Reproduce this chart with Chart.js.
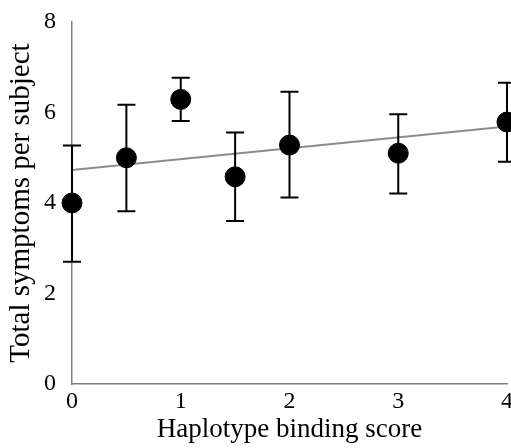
<!DOCTYPE html>
<html>
<head>
<meta charset="utf-8">
<script src="https://cdn.jsdelivr.net/npm/chart.js@4"></script>
<style>
  html, body { margin: 0; padding: 0; background: #fff; overflow: hidden; }
  #wrap { width: 511px; height: 448px; overflow: hidden; }
</style>
</head>
<body>
<div id="wrap"><canvas id="chart" width="518" height="448"></canvas></div>
<script>
// haplotype binding score vs mean symptoms, with error bar limits
const scores = [0, 0.5, 1, 1.5, 2, 3, 4];
const meanSymptoms = [4.0, 5.0, 6.29, 4.58, 5.28, 5.1, 5.79];
const upperLimit = [5.27, 6.17, 6.77, 5.56, 6.46, 5.96, 6.66];
const lowerLimit = [2.70, 3.82, 5.81, 3.60, 4.12, 4.21, 4.91];

// fitted trend line end points
const trendX = [0, 4];
const trendY = [4.73, 5.69];

const xTicks = [0, 1, 2, 3, 4];
const yTicks = [0, 2, 4, 6, 8];

const points = scores.map((s, i) => ({ x: s, y: meanSymptoms[i] }));
const trend = trendX.map((s, i) => ({ x: s, y: trendY[i] }));

Chart.defaults.font.family = "'Liberation Serif', 'Times New Roman', serif";
Chart.defaults.color = '#000';

const errorBars = {
    id: 'errorBars',
    afterDatasetsDraw(chart) {
        const ctx = chart.ctx;
        const xs = chart.scales.x;
        const ys = chart.scales.y;
        ctx.save();
        ctx.strokeStyle = '#000';
        ctx.lineWidth = 2;
        for (let i = 0; i < scores.length; i++) {
            const px = xs.getPixelForValue(scores[i]);
            const top = ys.getPixelForValue(upperLimit[i]);
            const bot = ys.getPixelForValue(lowerLimit[i]);
            ctx.beginPath();
            ctx.moveTo(px, top);
            ctx.lineTo(px, bot);
            ctx.moveTo(px - 9, top);
            ctx.lineTo(px + 9, top);
            ctx.moveTo(px - 9, bot);
            ctx.lineTo(px + 9, bot);
            ctx.stroke();
        }
        ctx.restore();
    }
};

const ctx = document.getElementById('chart').getContext('2d');

const myChart = new Chart(ctx, { // eslint-disable-line
    type: 'scatter',
    data: {
        datasets: [
            {
                type: 'line',
                data: trend,
                borderColor: '#8c8c8c',
                borderWidth: 2,
                pointRadius: 0,
                fill: false,
                order: 2
            },
            {
                data: points,
                backgroundColor: '#000',
                borderColor: '#000',
                pointRadius: 10,
                pointHoverRadius: 10,
                clip: false,
                order: 1
            }
        ]
    },
    options: {
        responsive: false,
        animation: false,
        layout: {
            padding: { top: 22, right: 0, left: 0, bottom: 0 }
        },
        plugins: {
            legend: { display: false },
            tooltip: { enabled: false }
        },
        scales: {
            x: {
                type: 'linear',
                min: 0,
                max: 4,
                afterBuildTicks: (axis) => {
                    axis.ticks = xTicks.map(v => ({ value: v }));
                },
                afterFit: (axis) => {
                    axis.height = 64;
                },
                grid: { display: false, drawTicks: false },
                border: { display: true, color: '#808080', width: 1.5 },
                ticks: { padding: 3, font: { size: 24 } },
                title: {
                    display: true,
                    text: 'Haplotype binding score',
                    font: { size: 27 },
                    padding: { top: 0, bottom: 2 }
                }
            },
            y: {
                min: 0,
                max: 8,
                afterBuildTicks: (axis) => {
                    axis.ticks = yTicks.map(v => ({ value: v }));
                },
                afterFit: (axis) => {
                    axis.width = 72;
                    axis.paddingTop = 0;
                    axis.paddingBottom = 0;
                },
                grid: { display: false, drawTicks: false },
                border: { display: true, color: '#808080', width: 1.5 },
                ticks: { padding: 16, font: { size: 24 } },
                title: {
                    display: true,
                    text: 'Total symptoms per subject',
                    font: { size: 29 },
                    padding: { top: 4, bottom: 0 }
                }
            }
        }
    },
    plugins: [errorBars]
});
</script>
</body>
</html>
